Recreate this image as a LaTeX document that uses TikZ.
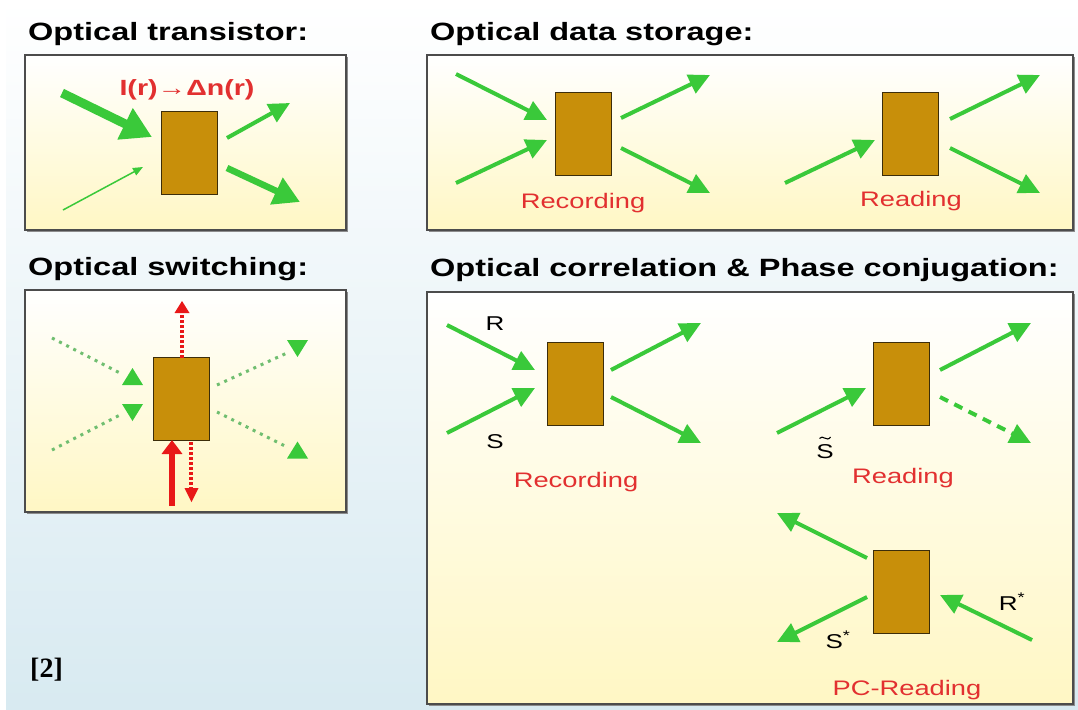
\documentclass[tikz,border=0pt]{standalone}
\usepackage{fontspec}
\setmainfont[FakeStretch=1.3]{Liberation Sans}
\newfontfamily\citefont{Liberation Serif}
\usetikzlibrary{arrows.meta}
\definecolor{beam}{RGB}{58,201,58}
\definecolor{beamdim}{RGB}{112,190,112}
\definecolor{pump}{RGB}{232,24,24}
\definecolor{labred}{RGB}{226,48,48}
\definecolor{crystal}{RGB}{200,143,10}
\definecolor{crysedge}{RGB}{60,45,10}
\definecolor{paper}{RGB}{255,247,196}
\definecolor{sky}{RGB}{216,234,241}
\begin{document}
\begin{tikzpicture}[x=1pt,y=-1pt,
  panel/.style={draw=black!70,line width=1.2,top color=white,bottom color=paper},
  cell/.style={draw=crysedge,line width=1,fill=crystal,minimum width=56,minimum height=83,inner sep=0},
  title/.style={anchor=base west,inner sep=0,font=\bfseries\fontsize{25}{30}\selectfont},
  tag/.style={anchor=base,inner sep=0,text=labred,font=\fontsize{21}{25}\selectfont},
  beamlabel/.style={anchor=base,inner sep=0,font=\fontsize{20}{24}\selectfont},
  ray/.style={draw=beam,line width=4,-{Triangle[length=21pt,width=20pt]}},
  dimray/.style={draw=beamdim,line width=3,dash pattern=on 3pt off 5pt},
  pumpdots/.style={draw=pump,line width=4,dash pattern=on 3pt off 2pt},
  tup/.pic={\fill (-10.5,8.5)--(10.5,8.5)--(0,-8.5)--cycle;},
  tdn/.pic={\fill (-10.5,-8.5)--(10.5,-8.5)--(0,8.5)--cycle;}]
% background and panels
\fill[white] (0,0) rectangle (1078,709);
\shade[top color=white,bottom color=sky] (6,0) rectangle (1078,709);
\foreach \a/\b/\c/\d in {25/55/346/230, 427/55/1073/230, 25/290/346/512, 427/292/1073/704}{
  \fill[black!45] (\a+2,\b+2) rectangle (\c+2,\d+2);
  \path[panel] (\a,\b) rectangle (\c,\d);
}
\node[title] at (28,41) {Optical transistor:};
\node[title] at (430,41) {Optical data storage:};
\node[title] at (28,275) {Optical switching:};
\node[title] at (430,276) {Optical correlation \& Phase conjugation:};
\node[anchor=base west,inner sep=0,font=\citefont\bfseries\fontsize{28}{32}\selectfont] at (30,677) {[2]};

% transistor
\node[cell] (tr) at (189,153) {};
\node[tag,font=\bfseries\fontsize{22}{26}\selectfont] at (187,95) {I(r)→Δn(r)};
\draw[draw=beam,line width=9,-{Triangle[length=30pt,width=33pt]}] (62,93) -- (152,137);
\draw[draw=beam,line width=1.5,-{Triangle[length=10pt,width=8pt]}] (63,210) -- (143,167);
\draw[ray] (227,138) -- (290,103);
\draw[draw=beam,line width=6.5,-{Triangle[length=26pt,width=28pt]}] (227,168) -- (300,202);

% data storage
\node[cell] (rec) at (583.5,134) {};
\node[cell] (rd) at (910,134) {};
\draw[ray] (456,74) -- (547,120);
\draw[ray] (456,183) -- (547,140);
\draw[ray] (621,118) -- (710,75);
\draw[ray] (621,148) -- (710,193);
\draw[ray] (785,183) -- (875,140);
\draw[ray] (950,119) -- (1040,75);
\draw[ray] (950,148) -- (1040,193);
\node[tag] at (583,208) {Recording};
\node[tag] at (911,206) {Reading};

% switching
\node[cell] (sw) at (181,398.5) {};
\draw[dimray] (52,338) -- (120,373);
\draw[dimray] (52,450) -- (120,415);
\draw[dimray] (217,385) -- (287,353);
\draw[dimray] (217,412) -- (287,447);
\path[fill=beam] (132.5,376.5) pic{tup} (132.5,412.5) pic{tdn}
  (297.5,348.5) pic{tdn} (297.5,450) pic{tup};
\draw[pumpdots] (182,358) -- (182,312);
\fill[pump] (174.5,313)--(189.5,313)--(182,301)--cycle;
\draw[pumpdots] (191,442) -- (191,489);
\fill[pump] (184.5,488)--(198.5,488)--(191.5,502)--cycle;
\draw[draw=pump,line width=6,-{Triangle[length=14pt,width=20pt]}] (172,506) -- (172,440);

% correlation and phase conjugation
\node[cell] (crec) at (575,384) {};
\node[cell] (crd) at (901.5,384) {};
\node[cell] (pc) at (901,592) {};
\draw[ray] (447,325) -- (535,370);
\draw[ray] (447,433) -- (535,388);
\draw[ray] (611,370) -- (701,323);
\draw[ray] (611,397) -- (701,443);
\node[beamlabel] at (495,330) {R};
\node[beamlabel] at (495,448) {S};
\node[tag] at (576,487) {Recording};
\draw[ray] (777,433) -- (866,388);
\draw[ray] (940,370) -- (1031,323);
\draw[ray,dash pattern=on 9pt off 7pt] (940,397) -- (1031,443);
\node[beamlabel] (stil) at (825,458) {S};
\draw[line width=1.1] (819.5,438.5) .. controls (822.5,434) and (827,442.5) .. (830.5,437);
\node[tag] at (903,483) {Reading};
\draw[ray] (867,558) -- (777,513);
\draw[ray] (867,597) -- (777,642);
\draw[ray] (1032,640) -- (940,595);
\node[beamlabel] at (1012,610) {R\textsuperscript{*}};
\node[beamlabel] at (838,648) {S\textsuperscript{*}};
\node[tag] at (907,695) {PC-Reading};
\end{tikzpicture}
\end{document}
